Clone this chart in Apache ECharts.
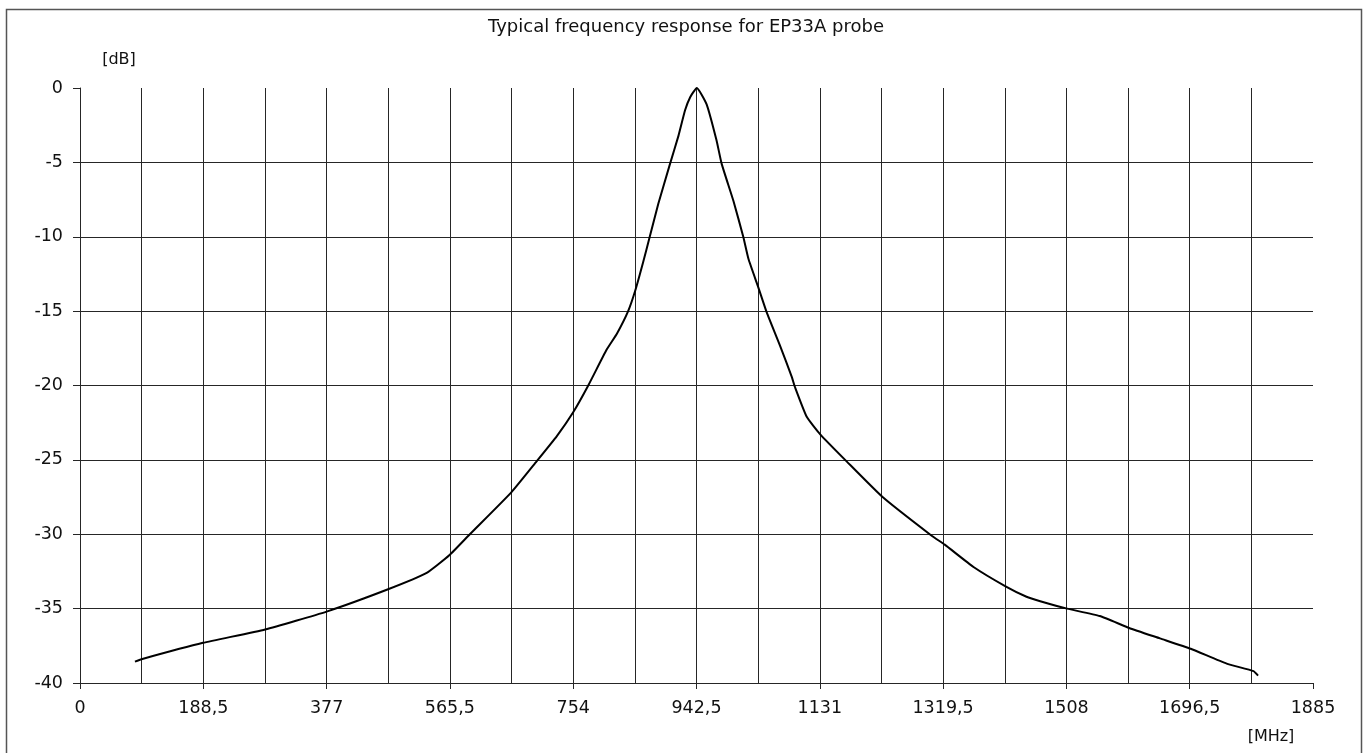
<!DOCTYPE html>
<html>
<head>
<meta charset="utf-8">
<script src="https://cdn.jsdelivr.net/npm/echarts@6/dist/echarts.min.js"></script>
<style>
html,body{margin:0;padding:0;background:#fff;}
#chart{width:1365px;height:753px;}
</style>
</head>
<body>
<div id="chart"></div>
<script>
const chartTitle = 'Typical frequency response for EP33A probe';
const yUnit = '[dB]';
const xUnit = '[MHz]';
const xMin = 0, xMax = 1885, xStep = 188.5;
const yMin = -40, yMax = 0, yStep = 5;

const freqMHz = [84, 94, 188, 283, 377, 471, 530, 565, 596, 659, 698, 729, 754, 777, 805, 821, 838, 849, 861, 871, 884, 902, 915, 925, 933, 943, 958, 973, 981, 999, 1014, 1022, 1037, 1050, 1070, 1088, 1093, 1111, 1132, 1172, 1227, 1302, 1322, 1366, 1415, 1447, 1468, 1509, 1559, 1604, 1651, 1698, 1753, 1794, 1801];
const levelDb = [-38.56, -38.4, -37.3, -36.4, -35.2, -33.7, -32.6, -31.4, -30.0, -27.2, -25.1, -23.4, -21.8, -20.0, -17.6, -16.5, -15.0, -13.6, -11.7, -10.0, -7.8, -5.1, -3.2, -1.5, -0.6, 0, -1.1, -3.5, -5.1, -7.6, -10.0, -11.5, -13.4, -15.1, -17.3, -19.4, -20.1, -22.1, -23.3, -25.1, -27.5, -30.1, -30.7, -32.2, -33.5, -34.2, -34.5, -35.0, -35.5, -36.3, -37.0, -37.7, -38.7, -39.2, -39.5];

const lineData = freqMHz.map((f, i) => [f, levelDb[i]]);
const gridColor = '#262626';
const font = 'DejaVu Sans';

const chart = echarts.init(document.getElementById('chart'), null, {renderer: 'canvas'});
chart.setOption({
  backgroundColor: '#ffffff',
  animation: false,
  graphic: [
    {type: 'rect', shape: {x: 6.5, y: 9.5, width: 1355, height: 800}, style: {fill: 'none', stroke: '#555', lineWidth: 1.5}, silent: true},
    {type: 'text', x: 686, y: 27, style: {text: chartTitle, font: '18px "' + font + '"', fill: '#111', textAlign: 'center', textVerticalAlign: 'middle'}},
    {type: 'text', x: 119, y: 60, style: {text: yUnit, font: '16px "' + font + '"', fill: '#111', textAlign: 'center', textVerticalAlign: 'middle'}},
    {type: 'text', x: 1271, y: 737, style: {text: xUnit, font: '16px "' + font + '"', fill: '#111', textAlign: 'center', textVerticalAlign: 'middle'}}
  ],
  grid: {left: 80, right: 52, top: 88, bottom: 70, containLabel: false},
  xAxis: {
    type: 'value', min: xMin, max: xMax, interval: xStep,
    axisLine: {show: true, onZero: false, lineStyle: {color: gridColor, width: 1}},
    axisTick: {show: true, length: 6, lineStyle: {color: gridColor}},
    axisLabel: {
      margin: 16, color: '#111', fontFamily: font, fontSize: 17.5,
      formatter: v => String(Math.round(v * 10) / 10).replace('.', ',')
    },
    splitLine: {show: true, showMinLine: false, showMaxLine: false, lineStyle: {color: gridColor, width: 1}},
    minorTick: {show: false, splitNumber: 2},
    minorSplitLine: {show: true, lineStyle: {color: gridColor, width: 1}}
  },
  yAxis: {
    type: 'value', min: yMin, max: yMax, interval: yStep,
    axisLine: {show: true, onZero: false, lineStyle: {color: gridColor, width: 1}},
    axisTick: {show: true, length: 7, lineStyle: {color: gridColor}},
    axisLabel: {margin: 17, color: '#111', fontFamily: font, fontSize: 17.5},
    splitLine: {show: true, showMinLine: false, showMaxLine: false, lineStyle: {color: gridColor, width: 1}}
  },
  series: [{
    type: 'line', data: lineData, showSymbol: false, smooth: 0.15,
    lineStyle: {color: '#000', width: 2, join: 'round'}
  }]
});
</script>
</body>
</html>
